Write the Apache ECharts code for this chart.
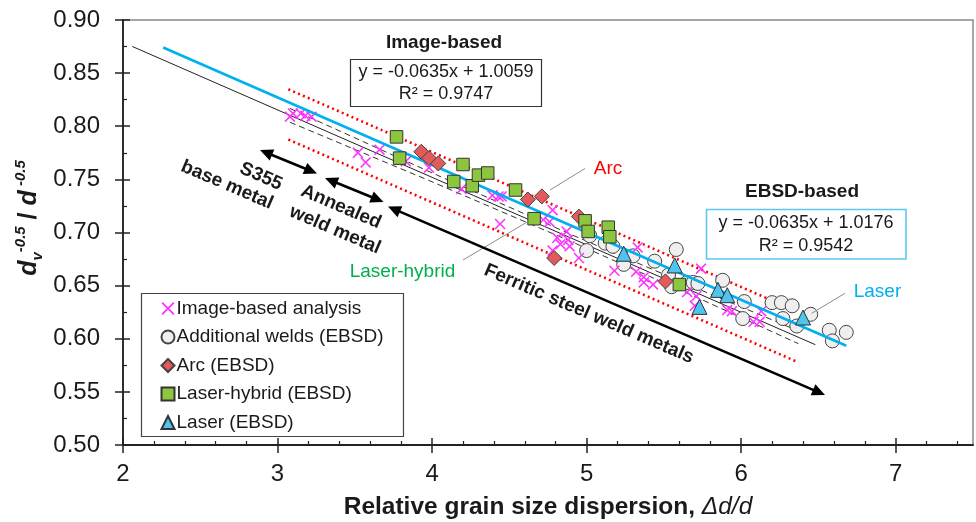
<!DOCTYPE html>
<html><head><meta charset="utf-8">
<script src="https://cdn.jsdelivr.net/npm/echarts@6/dist/echarts.min.js"></script>
<style>html,body{margin:0;padding:0;background:#fff}#c{width:976px;height:522px}</style>
</head><body><div id="c"></div>
<script>
// ---------- tick values ----------
const xMajor = [2, 3, 4, 5, 6, 7];
const xMinor = [2.2,2.4,2.6,2.8,3.2,3.4,3.6,3.8,4.2,4.4,4.6,4.8,5.2,5.4,5.6,5.8,6.2,6.4,6.6,6.8,7.2,7.4];
const yMajor = [0.50,0.55,0.60,0.65,0.70,0.75,0.80,0.85,0.90];
const yMinor = [0.525,0.575,0.625,0.675,0.725,0.775,0.825,0.875];

// ---------- data ----------
const imageBased = [
 [3.08,0.809],[3.10,0.812],[3.15,0.812],[3.18,0.810],[3.22,0.809],
 [3.52,0.775],[3.57,0.766],[3.66,0.778],[3.83,0.767],[3.98,0.761],
 [4.19,0.741],[4.39,0.735],[4.43,0.734],[4.45,0.734],[4.44,0.708],
 [4.78,0.721],[4.72,0.712],[4.76,0.710],[4.87,0.701],[4.81,0.695],
 [4.83,0.689],[4.88,0.693],[4.78,0.683],[4.95,0.676],[4.89,0.687],
 [5.18,0.664],[5.33,0.686],[5.32,0.663],[5.37,0.658],[5.37,0.653],
 [5.43,0.651],[5.74,0.666],[5.65,0.644],[5.71,0.640],[5.70,0.631],
 [5.91,0.627],[5.94,0.626],[6.08,0.616],[6.12,0.616],[6.13,0.626]
];
const additionalWelds = [
 [5.00,0.683],[5.02,0.697],[5.12,0.690],[5.17,0.687],[5.24,0.670],
 [5.30,0.678],[5.44,0.673],[5.53,0.660],[5.55,0.649],[5.58,0.684],
 [5.65,0.653],[5.69,0.653],[5.72,0.652],[5.88,0.655],[6.02,0.635],
 [6.01,0.619],[6.20,0.634],[6.26,0.634],[6.33,0.631],[6.27,0.619],
 [6.36,0.612],[6.45,0.623],[6.57,0.608],[6.59,0.598],[6.68,0.606]
];
const arc = [[3.93,0.776],[3.98,0.770],[4.04,0.765],[4.62,0.731],[4.71,0.734],[4.95,0.715],[4.79,0.676],[5.51,0.654]];
const laserHybrid = [
 [3.77,0.790],[3.79,0.770],[4.14,0.748],[4.20,0.764],[4.26,0.744],[4.30,0.754],[4.36,0.756],
 [4.54,0.740],[4.66,0.713],[4.99,0.711],[5.01,0.701],[5.14,0.705],[5.15,0.696],[5.60,0.651]
];
const laser = [[5.24,0.680],[5.57,0.669],[5.85,0.646],[5.91,0.641],[5.73,0.630],[6.40,0.620]];

// fitted lines and bands (end points)
const imageFit = [[2.06,0.8751],[6.48,0.5944]];
const ebsdFit = [[2.26,0.8741],[6.68,0.5934]];
const confUpper = [[3.08,0.8168],[4.00,0.7561],[4.90,0.6981],[5.70,0.6482],[6.37,0.6074]];
const confLower = [[3.08,0.8038],[4.00,0.7477],[4.90,0.6915],[5.70,0.6398],[6.37,0.5954]];
const predUpper = [[3.07,0.8348],[6.37,0.6252]];
const predLower = [[3.07,0.7875],[6.37,0.5778]];

// ---------- styling ----------
const FONT = '"Liberation Sans", Arial, sans-serif';
const TXT = '#1a1a1a';
const XSYM = 'path://M0,1 L1,0 L5,4 L9,0 L10,1 L6,5 L10,9 L9,10 L5,6 L1,10 L0,9 L4,5 Z';

function xAxisDef(o){
  return Object.assign({type:'value', min:2, max:7.5, position:'bottom', gridIndex:0,
    axisLine:{show:false}, axisLabel:{show:false}, splitLine:{show:false}, axisTick:{show:false}}, o);
}
function yAxisDef(o){
  return Object.assign({type:'value', min:0.5, max:0.9, position:'left', gridIndex:0,
    axisLine:{show:false}, axisLabel:{show:false}, splitLine:{show:false}, axisTick:{show:false}}, o);
}

function arrow(x1,y1,x2,y2){
  const dx=x2-x1, dy=y2-y1, L=Math.hypot(dx,dy), ux=dx/L, uy=dy/L, px=-uy, py=ux;
  const hl=13, hw=6;
  const els=[{type:'line', shape:{x1:x1+ux*hl*0.8,y1:y1+uy*hl*0.8,x2:x2-ux*hl*0.8,y2:y2-uy*hl*0.8},
    style:{stroke:'#000', lineWidth:2.6}, z:10}];
  els.push({type:'polygon', shape:{points:[[x2,y2],[x2-ux*hl+px*hw,y2-uy*hl+py*hw],[x2-ux*hl-px*hw,y2-uy*hl-py*hw]]}, style:{fill:'#000'}, z:10});
  els.push({type:'polygon', shape:{points:[[x1,y1],[x1+ux*hl+px*hw,y1+uy*hl+py*hw],[x1+ux*hl-px*hw,y1+uy*hl-py*hw]]}, style:{fill:'#000'}, z:10});
  return els;
}
function rtext(x,y,text,rot,opts){
  return Object.assign({type:'text', x:x, y:y, rotation:rot, z:10,
    style:{text:text, x:0, y:0, align:'center', verticalAlign:'middle', font:'bold 19px '+FONT, fill:TXT}}, opts||{});
}
function label(x,y,text,font,fill){
  return {type:'text', x:x, y:y, z:10, style:{text:text, align:'center', verticalAlign:'middle', font:font, fill:fill||TXT}};
}
const ROT = -0.405;

const graphics = [].concat(
  // image-based equation box
  [label(444,43,'Image-based','bold 19px '+FONT),
   {type:'rect', shape:{x:350.5,y:59.5,width:191,height:47}, style:{fill:'#fff',stroke:'#333',lineWidth:1.2}, z:9},
   label(446,72,'y = -0.0635x + 1.0059','18px '+FONT),
   label(446,94,'R² = 0.9747','18px '+FONT),
   label(802,192,'EBSD-based','bold 19px '+FONT),
   {type:'rect', shape:{x:706.5,y:209.5,width:199.5,height:49.5}, style:{fill:'#fff',stroke:'#5cc8f0',lineWidth:1.6}, z:9},
   label(806,223.5,'y = -0.0635x + 1.0176','18px '+FONT),
   label(806,246.5,'R² = 0.9542','18px '+FONT),
   // callouts
   label(608,169,'Arc','19px '+FONT,'#ff0000'),
   {type:'line', shape:{x1:585,y1:168.5,x2:550,y2:190}, style:{stroke:'#8c8c8c',lineWidth:1}, z:9},
   label(402.5,272,'Laser-hybrid','19px '+FONT,'#00b050'),
   {type:'line', shape:{x1:463,y1:260,x2:528,y2:221.5}, style:{stroke:'#8c8c8c',lineWidth:1}, z:9},
   label(877.5,292,'Laser','19px '+FONT,'#00b0f0'),
   {type:'line', shape:{x1:845,y1:293.3,x2:811.7,y2:313.3}, style:{stroke:'#8c8c8c',lineWidth:1}, z:9},
   // rotated annotations
   rtext(261,176.5,'S355',ROT),
   rtext(227,185,'base metal',ROT),
   rtext(341,207,'Annealed',ROT),
   rtext(335,230,'weld metal',ROT),
   rtext(589,314,'Ferritic steel weld metals',ROT),
   // axis titles
   {type:'text', x:548, y:507, z:10, style:{align:'center', verticalAlign:'middle', fill:TXT,
     text:'{b|Relative grain size dispersion, }{i|Δd/d}',
     rich:{b:{fontFamily:FONT, fontWeight:'bold', fontSize:24.5, fill:TXT},
           i:{fontFamily:FONT, fontStyle:'italic', fontSize:24.5, fill:TXT}}}},
   {type:'text', x:29, y:218, rotation:Math.PI/2, z:10, style:{align:'center', verticalAlign:'middle', fill:TXT,
     text:'{d|d}{sub|v}{sup|-0.5}{n| / }{d|d}{sup| -0.5}',
     rich:{d:{fontFamily:FONT, fontWeight:'bold', fontStyle:'italic', fontSize:25, lineHeight:32, verticalAlign:'middle', fill:TXT},
           sub:{fontFamily:FONT, fontWeight:'bold', fontStyle:'italic', fontSize:15, lineHeight:15, verticalAlign:'bottom', fill:TXT},
           sup:{fontFamily:FONT, fontWeight:'bold', fontStyle:'italic', fontSize:15, lineHeight:15, verticalAlign:'top', fill:TXT},
           n:{fontFamily:FONT, fontWeight:'bold', fontSize:25, lineHeight:32, verticalAlign:'middle', fill:TXT}}}}
  ],
  arrow(260,150,317,173.5),
  arrow(325,178,383.5,202),
  arrow(388,206.5,825,395)
);

const option = {
  animation:false,
  backgroundColor:'#fff',
  grid:{left:123, top:20, right:3, bottom:77, show:true, borderColor:'#8a8a8a', borderWidth:1.5, backgroundColor:'transparent'},
  xAxis:[
    xAxisDef({axisLine:{show:true,lineStyle:{color:'#222',width:1.8}},
      axisTick:{show:true,inside:false,length:8,lineStyle:{color:'#222',width:1.5},customValues:xMajor},
      axisLabel:{show:true,margin:17,fontSize:24,fontFamily:FONT,color:TXT,customValues:xMajor}}),
    xAxisDef({axisTick:{show:true,inside:true,length:7,lineStyle:{color:'#222',width:1.5},customValues:xMajor}}),
    xAxisDef({axisTick:{show:true,inside:true,length:4,lineStyle:{color:'#222',width:1.2},customValues:xMinor}})
  ],
  yAxis:[
    yAxisDef({axisLine:{show:true,lineStyle:{color:'#222',width:1.8}},
      axisTick:{show:true,inside:false,length:8,lineStyle:{color:'#222',width:1.5},customValues:yMajor},
      axisLabel:{show:true,margin:23,fontSize:24,fontFamily:FONT,color:TXT,customValues:yMajor,formatter:v=>v.toFixed(2)}}),
    yAxisDef({axisTick:{show:true,inside:true,length:7,lineStyle:{color:'#222',width:1.5},customValues:yMajor}}),
    yAxisDef({axisTick:{show:true,inside:true,length:4,lineStyle:{color:'#222',width:1.2},customValues:yMinor}})
  ],
  legend:{
    data:['Image-based analysis','Additional welds (EBSD)','Arc (EBSD)','Laser-hybrid (EBSD)','Laser (EBSD)'],
    orient:'vertical', left:141.5, top:293.5, padding:[5,20,4,19], itemGap:8.5,
    itemWidth:13, itemHeight:13, backgroundColor:'#fff', borderColor:'#444', borderWidth:1.2,
    textStyle:{fontFamily:FONT, fontSize:19, lineHeight:20, color:TXT, padding:[0,0,0,-3]}
  },
  graphic:graphics,
  series:[
    {name:'predUpper', type:'line', data:predUpper, symbol:'none', silent:true, z:1, lineStyle:{color:'#ff0000',width:2.6,type:[2,3.3]}},
    {name:'predLower', type:'line', data:predLower, symbol:'none', silent:true, z:1, lineStyle:{color:'#ff0000',width:2.6,type:[2,3.3]}},
    {name:'confUpper', type:'line', data:confUpper, symbol:'none', silent:true, z:1, lineStyle:{color:'#333',width:1,type:[6,4]}},
    {name:'confLower', type:'line', data:confLower, symbol:'none', silent:true, z:1, lineStyle:{color:'#333',width:1,type:[6,4]}},
    {name:'imageFit', type:'line', data:imageFit, symbol:'none', silent:true, z:1, lineStyle:{color:'#222',width:1}},
    {name:'Additional welds (EBSD)', type:'scatter', data:additionalWelds, symbol:'circle', symbolSize:14, z:2,
      itemStyle:{color:'#efefef', borderColor:'#444', borderWidth:1, opacity:1}},
    {name:'Image-based analysis', type:'scatter', data:imageBased, symbol:XSYM, symbolSize:11, z:3,
      itemStyle:{color:'#ff33ff', opacity:1}},
    {name:'ebsdFit', type:'line', data:ebsdFit, symbol:'none', silent:true, z:4, lineStyle:{color:'#00b0f0',width:2.6}},
    {name:'Arc (EBSD)', type:'scatter', data:arc, symbol:'diamond', symbolSize:15, z:5,
      itemStyle:{color:'#e25a5c', borderColor:'#444', borderWidth:1, opacity:1}},
    {name:'Laser-hybrid (EBSD)', type:'scatter', data:laserHybrid, symbol:'rect', symbolSize:12.5, z:5,
      itemStyle:{color:'#8cc63f', borderColor:'#333', borderWidth:1, opacity:1}},
    {name:'Laser (EBSD)', type:'scatter', data:laser, symbol:'triangle', symbolSize:15, z:6,
      itemStyle:{color:'#4fc4ee', borderColor:'#333', borderWidth:1, opacity:1}}
  ]
};
const chart = echarts.init(document.getElementById('c'));
chart.setOption(option);
</script>
</body></html>
